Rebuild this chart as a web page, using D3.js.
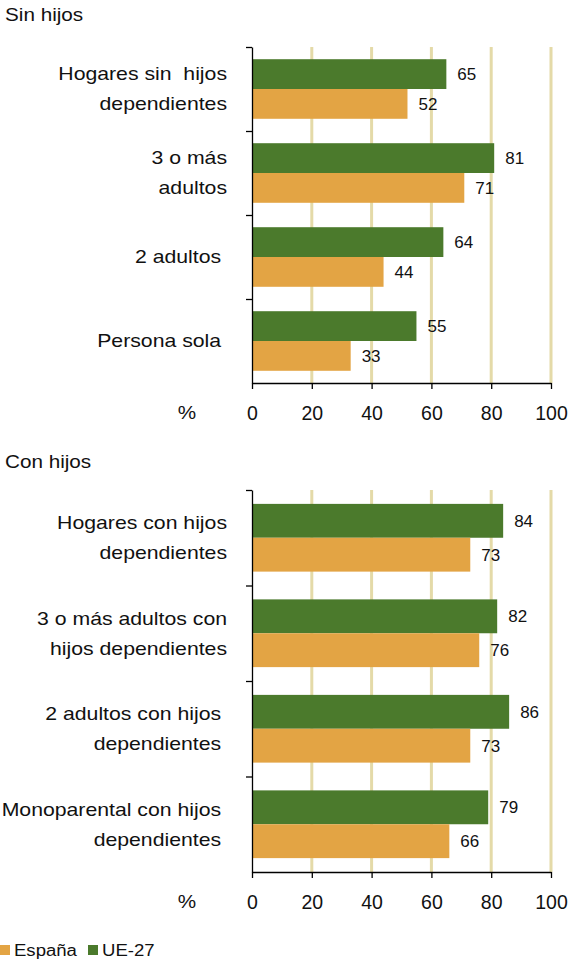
<!DOCTYPE html>
<html>
<head>
<meta charset="utf-8">
<script src="https://cdn.jsdelivr.net/npm/d3@7"></script>
<style>
  html, body { margin: 0; padding: 0; background: #ffffff; }
  svg { display: block; font-family: "Liberation Sans", Arial, sans-serif; }
</style>
</head>
<body>
<svg id="chart" width="572" height="967"></svg>
<script>
// ---- data ----
const seriesNames = ["UE-27", "España"];
const titles = ["Sin hijos", "Con hijos"];

const catsSin = [
  ["Hogares sin  hijos", "dependientes"],
  ["3 o más", "adultos"],
  ["2 adultos "],
  ["Persona sola "]
];
const ueSin = [65, 81, 64, 55];
const espSin = [52, 71, 44, 33];

const catsCon = [
  ["Hogares con hijos", "dependientes"],
  ["3 o más adultos con", "hijos dependientes"],
  ["2 adultos con hijos ", "dependientes "],
  ["Monoparental con hijos ", "dependientes "]
];
const ueCon = [84, 82, 86, 79];
const espCon = [73, 76, 73, 66];

const xTicks = [0, 20, 40, 60, 80, 100];
const legendItems = ["España", "UE-27"];

// ---- style ----
const colors = { "UE-27": "#4b7a2c", "España": "#e3a444" };
const gridColor = "#e4daa8";
const stretch = 1.18;

const svg = d3.select("#chart");
const x = d3.scaleLinear().domain([0, 100]).range([252, 551]);

function panel(opts) {
  const { title, titleY, cats, ue, esp, top, bottom } = opts;
  const g = svg.append("g");
  const idx = cats.map((d, i) => i);
  const y0 = d3.scaleBand().domain(idx).range([top, bottom]).paddingInner(0).paddingOuter(0);
  const y1 = d3.scaleBand().domain(seriesNames).range([0, y0.bandwidth()]).paddingInner(0).paddingOuter(0.41);

  // title
  g.append("g").attr("transform", `translate(5,${titleY}) scale(1.15,1)`)
    .append("text").attr("x", 0).attr("y", 0)
    .attr("font-size", 18).attr("fill", "#111")
    .text(title);

  // gridlines
  g.selectAll("line.grid").data(xTicks.filter(t => t > 0)).enter().append("line")
    .attr("x1", d => x(d)).attr("x2", d => x(d))
    .attr("y1", top).attr("y2", bottom)
    .attr("stroke", gridColor).attr("stroke-width", 3);

  // bars
  const rows = idx.map(i => ({ i, vals: [{ s: "UE-27", v: ue[i] }, { s: "España", v: esp[i] }] }));
  const grp = g.selectAll("g.row").data(rows).enter().append("g")
    .attr("transform", d => `translate(0,${y0(d.i)})`);
  grp.selectAll("rect").data(d => d.vals).enter().append("rect")
    .attr("x", x(0)).attr("y", d => y1(d.s))
    .attr("width", d => x(d.v) - x(0)).attr("height", y1.bandwidth())
    .attr("fill", d => colors[d.s]);
  grp.selectAll("text.val").data(d => d.vals).enter().append("text")
    .attr("class", "val")
    .attr("x", d => x(d.v) + 11).attr("y", d => y1(d.s) + y1.bandwidth() / 2)
    .attr("dy", "0.36em").attr("font-size", 17).attr("fill", "#111")
    .text(d => d.v);

  // category labels (horizontally stretched like the original)
  const labG = g.append("g").attr("transform", `translate(227,0) scale(${stretch},1)`);
  const lab = labG.selectAll("text.cat").data(cats).enter().append("text")
    .attr("class", "cat")
    .attr("text-anchor", "end").attr("font-size", 18)
    .attr("fill", "#111");
  lab.each(function (lines, i) {
    const cy = y0(i) + y0.bandwidth() / 2;
    const n = lines.length;
    d3.select(this).selectAll("tspan").data(lines).enter().append("tspan")
      .attr("x", 0)
      .attr("y", (d, j) => cy + (j - (n - 1) / 2) * 30)
      .attr("dy", "0.36em")
      .text(d => d.replace(/  /g, " \u00a0").replace(/ $/, "\u00a0"));
  });

  // y axis (boundary ticks)
  const yb = d3.scaleLinear().domain([0, cats.length]).range([top, bottom]);
  const yAxis = d3.axisLeft(yb).tickValues(d3.range(cats.length)).tickSize(6).tickSizeOuter(0).tickFormat("");
  const ya = g.append("g").attr("transform", `translate(${x(0)},0)`).call(yAxis);
  ya.selectAll("path, line").attr("stroke", "#000").attr("stroke-width", 1.3);

  // x axis
  const xAxis = d3.axisBottom(x).tickValues(xTicks).tickSize(6).tickSizeOuter(0).tickPadding(17);
  const xa = g.append("g").attr("transform", `translate(0,${bottom})`).call(xAxis);
  xa.selectAll("path, line").attr("stroke", "#000").attr("stroke-width", 1.3);
  xa.selectAll("text").attr("font-size", 19.5).attr("fill", "#111")
    .attr("font-family", "'Liberation Sans', Arial, sans-serif");

  // percent sign
  g.append("g").attr("transform", `translate(187,${bottom + 30}) scale(1.15,1)`)
    .append("text").attr("x", 0).attr("y", 0).attr("dy", "0.36em")
    .attr("text-anchor", "middle").attr("font-size", 18).attr("fill", "#111").text("%");
}

panel({ title: titles[0], titleY: 21, cats: catsSin, ue: ueSin, esp: espSin, top: 47, bottom: 383 });
panel({ title: titles[1], titleY: 468, cats: catsCon, ue: ueCon, esp: espCon, top: 490, bottom: 872 });

// legend
const lg = svg.append("g").attr("transform", "translate(0,950)");
const legX = [0, 88];
legendItems.forEach((name, i) => {
  lg.append("rect").attr("x", legX[i]).attr("y", -5).attr("width", 10).attr("height", 10)
    .attr("fill", colors[name]);
  lg.append("g").attr("transform", `translate(${legX[i] + 14},0) scale(1.16,1)`)
    .append("text").attr("x", 0).attr("y", 0).attr("dy", "0.36em")
    .attr("font-size", 16).attr("fill", "#111").text(name);
});
</script>
</body>
</html>
